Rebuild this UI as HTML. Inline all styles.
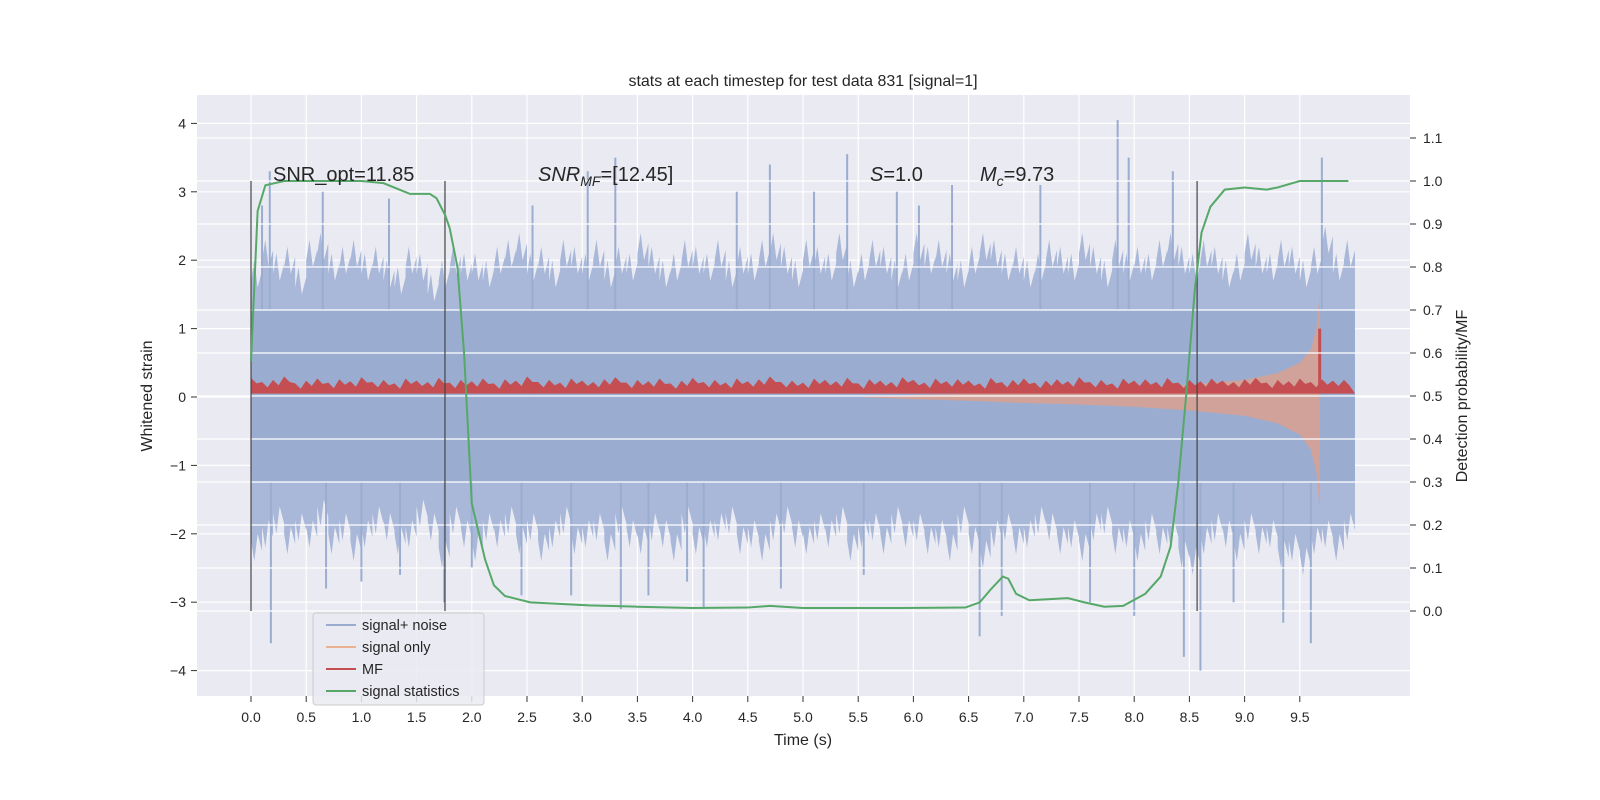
<!DOCTYPE html>
<html><head><meta charset="utf-8"><style>
html,body{margin:0;padding:0;background:#fff;overflow:hidden;width:1600px;height:800px;}
svg{display:block;}
svg text{font-family:"Liberation Sans","DejaVu Sans",sans-serif;fill:#262626;}
</style></head><body>
<svg id="chart" width="1600" height="800" xmlns="http://www.w3.org/2000/svg">
<rect x="197" y="95" width="1213" height="601" fill="#eaeaf2"/>
<g id="lgrid"></g><g id="marks"></g><g id="rgrid"></g><g id="green"></g><g id="axes"></g>
<text x="803" y="86" text-anchor="middle" font-size="16">stats at each timestep for test data 831 [signal=1]</text>
<text x="803" y="745" text-anchor="middle" font-size="16">Time (s)</text>
<text transform="translate(152,396) rotate(-90)" text-anchor="middle" font-size="16">Whitened strain</text>
<text transform="translate(1467,396) rotate(-90)" text-anchor="middle" font-size="16">Detection probability/MF</text>
<text x="273" y="181" font-size="20">SNR_opt=11.85</text>
<text x="538" y="181" font-size="20"><tspan font-style="italic">SNR</tspan><tspan font-style="italic" font-size="14" dy="5">MF</tspan><tspan dy="-5">=[12.45]</tspan></text>
<text x="870" y="181" font-size="20"><tspan font-style="italic">S</tspan>=1.0</text>
<text x="980" y="181" font-size="20"><tspan font-style="italic">M</tspan><tspan font-style="italic" font-size="14" dy="5">c</tspan><tspan dy="-5">=9.73</tspan></text>
<g>
<rect x="313" y="613" width="171" height="92" rx="3" fill="#eaeaf2" fill-opacity="0.85" stroke="#cccccc"/>
<line x1="326" y1="625" x2="356" y2="625" stroke="#9aadd0" stroke-width="2"/>
<text x="362" y="630" font-size="14.5">signal+ noise</text>
<line x1="326" y1="647" x2="356" y2="647" stroke="#eab292" stroke-width="2"/>
<text x="362" y="652" font-size="14.5">signal only</text>
<line x1="326" y1="669" x2="356" y2="669" stroke="#c44e52" stroke-width="2"/>
<text x="362" y="674" font-size="14.5">MF</text>
<line x1="326" y1="691" x2="356" y2="691" stroke="#55a868" stroke-width="2"/>
<text x="362" y="696" font-size="14.5">signal statistics</text>
</g>
</svg>
<script>
const xTicks=[0,0.5,1,1.5,2,2.5,3,3.5,4,4.5,5,5.5,6,6.5,7,7.5,8,8.5,9,9.5];
const yTicks=[-4,-3,-2,-1,0,1,2,3,4];
const pTicks=[0,0.1,0.2,0.3,0.4,0.5,0.6,0.7,0.8,0.9,1.0,1.1];
const noiseUpper=[2.0,2.3,2.1,2.2,1.9,2.3,2.4,2.1,2.2,2.3,2.1,2.2,2.0,1.9,2.2,2.1,1.8,2.0,2.2,2.1,2.1,2.0,2.2,2.3,2.4,2.1,2.2,2.0,2.3,2.2,2.1,2.3,2.0,2.2,2.1,2.4,2.2,2.0,2.1,2.3,2.2,2.1,2.3,2.0,2.2,2.1,2.3,2.4,2.2,2.0,2.3,2.2,2.1,2.4,2.0,2.1,2.3,2.2,2.0,2.1,2.4,2.2,2.3,2.1,2.0,2.2,2.4,2.3,2.1,2.2,2.0,2.1,2.3,2.2,2.1,2.4,2.2,2.0,2.3,2.1,2.2,2.1,2.3,2.4,2.2,2.1,2.3,2.2,2.0,2.1,2.4,2.2,2.1,2.3,2.2,2.0,2.2,2.5,2.1,2.3];
const noiseLower=[-2.4,-2.2,-2.0,-2.3,-2.1,-2.2,-1.9,-2.3,-2.1,-2.4,-2.2,-2.0,-2.1,-2.3,-2.2,-1.9,-2.1,-2.5,-2.0,-2.2,-2.4,-2.1,-2.2,-2.0,-2.3,-2.1,-2.4,-2.2,-2.0,-2.3,-2.2,-2.1,-2.4,-2.0,-2.2,-2.3,-2.1,-2.2,-2.4,-2.0,-2.3,-2.2,-2.1,-2.0,-2.3,-2.2,-2.4,-2.1,-2.0,-2.2,-2.3,-2.1,-2.2,-2.0,-2.4,-2.2,-2.1,-2.3,-2.0,-2.2,-2.1,-2.3,-2.2,-2.4,-2.0,-2.3,-2.5,-2.2,-2.1,-2.3,-2.2,-2.0,-2.1,-2.3,-2.2,-2.4,-2.1,-2.0,-2.3,-2.2,-2.4,-2.1,-2.3,-2.2,-2.5,-2.6,-2.3,-2.1,-2.2,-2.4,-2.1,-2.3,-2.2,-2.5,-2.4,-2.6,-2.3,-2.2,-2.4,-2.1];
const spikeTimes=[0.1,0.17,0.18,0.65,0.68,1.0,1.25,1.35,1.75,2.0,2.45,2.55,2.9,3.05,3.3,3.35,3.6,3.95,4.1,4.4,4.7,4.8,5.1,5.4,5.55,5.85,6.05,6.35,6.6,6.8,7.15,7.6,7.85,7.95,8.0,8.35,8.45,8.6,8.9,9.35,9.6,9.7];
const spikeValues=[2.8,3.3,-3.6,3.0,-2.8,-2.7,2.9,-2.6,-3.0,-2.5,-2.9,2.8,-2.9,3.3,3.5,-3.1,-2.9,-2.7,-3.1,3.0,3.4,-2.8,3.0,3.55,-2.6,3.0,2.8,3.1,-3.5,-3.2,3.1,-3.0,4.05,3.5,-3.2,3.3,-3.8,-4.0,-3.0,-3.3,-3.6,3.5];
const chirpTimes=[5.5,6.0,6.5,7.0,7.5,8.0,8.5,9.0,9.3,9.5,9.6,9.65,9.68];
const chirpAmp=[0,0.03,0.05,0.08,0.1,0.13,0.18,0.25,0.35,0.5,0.7,1.0,1.5];
const mfTop=[0.28,0.22,0.25,0.3,0.2,0.24,0.27,0.21,0.26,0.23,0.29,0.22,0.25,0.2,0.27,0.24,0.22,0.28,0.21,0.25,0.23,0.27,0.2,0.26,0.24,0.3,0.22,0.25,0.21,0.27,0.24,0.22,0.26,0.29,0.21,0.25,0.23,0.27,0.2,0.24,0.28,0.22,0.25,0.21,0.27,0.23,0.26,0.3,0.22,0.24,0.21,0.27,0.25,0.23,0.28,0.2,0.26,0.24,0.22,0.29,0.25,0.21,0.27,0.23,0.26,0.24,0.2,0.28,0.22,0.25,0.27,0.21,0.24,0.26,0.23,0.29,0.22,0.25,0.2,0.27,0.24,0.26,0.22,0.28,0.21,0.25,0.23,0.27,0.24,0.22,0.26,0.28,0.21,0.25,0.23,0.27,0.22,0.26,0.24,0.25];
const mfPeakTime=9.68, mfPeakValue=1.0;
const statTimes=[0,0.06,0.13,0.3,1.0,1.2,1.44,1.62,1.68,1.76,1.8,1.87,1.93,1.97,2.0,2.12,2.2,2.3,2.53,3.06,3.5,4.0,4.5,4.7,5.0,5.9,6.47,6.6,6.7,6.81,6.86,6.93,7.05,7.4,7.55,7.73,7.9,8.1,8.24,8.33,8.4,8.47,8.55,8.61,8.69,8.82,9.0,9.2,9.3,9.5,9.94];
const statValues=[0.58,0.93,0.99,1.0,1.0,0.995,0.97,0.97,0.96,0.92,0.89,0.8,0.6,0.4,0.25,0.12,0.06,0.035,0.02,0.013,0.01,0.007,0.008,0.012,0.007,0.007,0.008,0.02,0.05,0.08,0.075,0.04,0.025,0.03,0.02,0.01,0.012,0.04,0.08,0.15,0.3,0.5,0.75,0.88,0.94,0.98,0.985,0.98,0.985,1.0,1.0];
const vlineTimes=[0,1.757,8.57];

const NS='http://www.w3.org/2000/svg';
const X=t=>251+t*110.4, Y=v=>397-v*68.4, P=p=>611-p*430;
function mk(tag,parent,attrs){const e=document.createElementNS(NS,tag);for(const k in attrs)e.setAttribute(k,attrs[k]);document.getElementById(parent).appendChild(e);return e;}
yTicks.forEach(v=>{const e=mk('line','lgrid',{x1:197,x2:1410,y1:Y(v),y2:Y(v),stroke:'#fff','stroke-width':1.2});

});
xTicks.forEach(t=>{const e=mk('line','lgrid',{x1:X(t),x2:X(t),y1:95,y2:696,stroke:'#fff','stroke-width':1.2});

});
const dt=0.1;let pts=[];
noiseUpper.forEach((v,i)=>{pts.push([X(i*dt),Y(v-0.3)],[X(i*dt+0.03),Y(v)],[X(i*dt+0.06),Y(v-0.4)],[X(Math.min((i+1)*dt,10)),Y(v-0.15)]);});
for(let i=noiseLower.length-1;i>=0;i--){const v=noiseLower[i];pts.push([X(Math.min((i+1)*dt,10)),Y(v+0.15)],[X(i*dt+0.06),Y(v+0.4)],[X(i*dt+0.03),Y(v)],[X(i*dt),Y(v+0.3)]);}
let e=mk('polygon','marks',{points:pts.map(p=>p.join(',')).join(' '),fill:'#a9b8d8'});


e=mk('rect','marks',{x:X(0),y:Y(1.28),width:X(10)-X(0),height:Y(-1.25)-Y(1.28),fill:'#9aadd0'});


spikeTimes.forEach((t,i)=>{const s=mk('line','marks',{x1:X(t),x2:X(t),y1:Y(0),y2:Y(spikeValues[i]),stroke:'#9aadd0','stroke-width':2});

});
let cp=[];chirpTimes.forEach((t,i)=>cp.push([X(t),Y(chirpAmp[i])]));
for(let i=chirpTimes.length-1;i>=0;i--)cp.push([X(chirpTimes[i]),Y(-chirpAmp[i]*1.1)]);
e=mk('polygon','marks',{points:cp.map(p=>p.join(',')).join(' '),fill:'#d9a090',opacity:0.85});


let mp=[];mfTop.forEach((v,i)=>{mp.push([X(i*dt),Y(v)],[X(Math.min((i+0.5)*dt,10)),Y(v-0.08)]);});
mp.push([X(10),Y(0.05)],[X(0),Y(0.05)]);
e=mk('polygon','marks',{points:mp.map(p=>p.join(',')).join(' '),fill:'#c44e52'});


e=mk('line','marks',{x1:X(mfPeakTime),x2:X(mfPeakTime),y1:Y(0.05),y2:Y(mfPeakValue),stroke:'#c44e52','stroke-width':3});


pTicks.forEach(p=>{const g=mk('line','rgrid',{x1:197,x2:1410,y1:P(p),y2:P(p),stroke:'#fff','stroke-width':1.2});

});
vlineTimes.forEach(t=>{const v=mk('line','green',{x1:X(t),x2:X(t),y1:P(1.0),y2:P(0),stroke:'#444','stroke-width':1.5,opacity:0.8});

});
e=mk('polyline','green',{points:statTimes.map((t,i)=>X(t)+','+P(statValues[i])).join(' '),fill:'none',stroke:'#55a868','stroke-width':2});


xTicks.forEach(t=>{let l=mk('line','axes',{x1:X(t),x2:X(t),y1:696,y2:702,stroke:'#333'});


let tx=mk('text','axes',{x:X(t),y:722,'text-anchor':'middle','font-size':14});tx.textContent=t.toFixed(1);

});
yTicks.forEach(v=>{let l=mk('line','axes',{x1:191,x2:197,y1:Y(v),y2:Y(v),stroke:'#333'});


let tx=mk('text','axes',{x:186,y:Y(v)+5,'text-anchor':'end','font-size':14});tx.textContent=(v<0?'\u2212'+(-v):v);

});
pTicks.forEach(p=>{let l=mk('line','axes',{x1:1410,x2:1416,y1:P(p),y2:P(p),stroke:'#333'});


let tx=mk('text','axes',{x:1423,y:P(p)+5,'font-size':14});tx.textContent=p.toFixed(1);

});
</script>
</body></html>
